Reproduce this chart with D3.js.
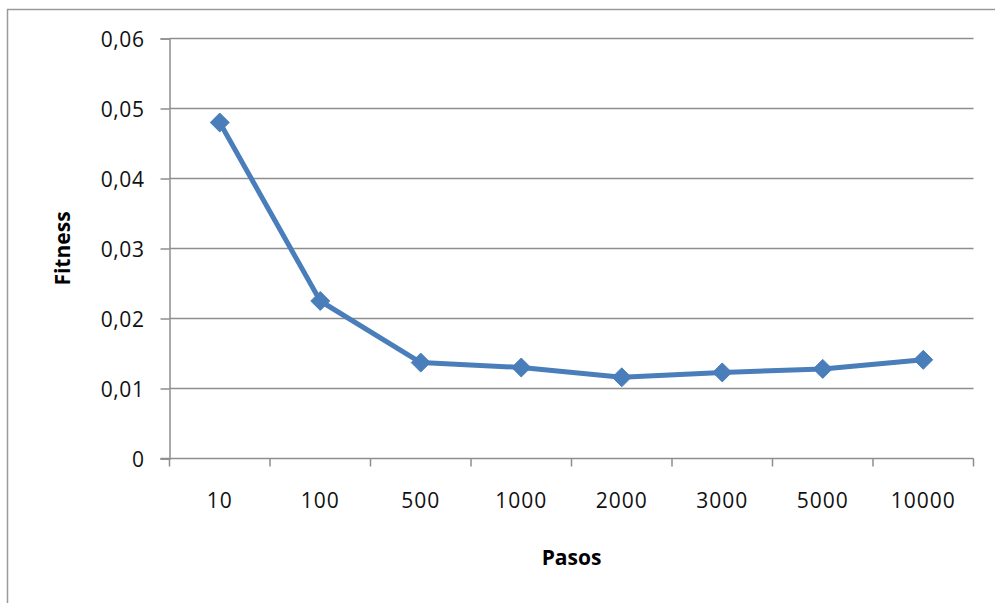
<!DOCTYPE html>
<html>
<head>
<meta charset="utf-8">
<script src="https://cdn.jsdelivr.net/npm/d3@7"></script>
<style>
  html, body { margin: 0; padding: 0; background: #fff; }
  svg { display: block; }
  text { font-family: "Open Sans", "DejaVu Sans", sans-serif; fill: #000; }
</style>
</head>
<body>
<svg id="chart" width="995" height="603"></svg>
<script>
// Fitness per number of steps
const pasos = ["10", "100", "500", "1000", "2000", "3000", "5000", "10000"];
const fitness = [0.0480, 0.0225, 0.0137, 0.0130, 0.0116, 0.0123, 0.0128, 0.0141];
const yTicks = [0, 0.01, 0.02, 0.03, 0.04, 0.05, 0.06];
const xTitle = "Pasos";
const yTitle = "Fitness";

const svg = d3.select("#chart");
const W = 995, H = 603;
const plot = { left: 169.5, right: 973.5, top: 38.5, bottom: 458.5 };
const gray = "#8e8e8e";
const blue = "#4a7ebb";

// outer chart frame
svg.append("rect")
  .attr("x", 7.5).attr("y", 9.5)
  .attr("width", W + 10).attr("height", H + 10)
  .attr("fill", "#fff").attr("stroke", "#9a9a9a").attr("stroke-width", 1.5);

const x = d3.scaleBand().domain(pasos).range([plot.left, plot.right]).padding(0);
const y = d3.scaleLinear().domain([0, 0.06]).range([plot.bottom, plot.top]);

const fmt = v => d3.format(".2f")(v).replace(".", ",");

// horizontal gridlines
svg.append("g").selectAll("line").data(yTicks.filter(d => d > 0)).join("line")
  .attr("x1", plot.left).attr("x2", plot.right)
  .attr("y1", d => y(d)).attr("y2", d => y(d))
  .attr("stroke", gray).attr("stroke-width", 1.5);

// y axis
const yAxis = svg.append("g").attr("transform", `translate(${plot.left},0)`)
  .call(d3.axisLeft(y).tickValues(yTicks).tickSize(9).tickPadding(16)
    .tickFormat(d => d === 0 ? "0" : fmt(d)));
yAxis.select(".domain").attr("stroke", gray).attr("stroke-width", 1.5);
yAxis.selectAll(".tick line").attr("stroke", gray).attr("stroke-width", 1.5);
yAxis.selectAll(".tick text")
  .style("font-size", "21px").style("letter-spacing", "0.6px")
  .style("fill", "#111")
  .attr("dy", "0.36em");

// x axis line and tick marks at category boundaries
svg.append("line")
  .attr("x1", plot.left - 9).attr("x2", plot.right)
  .attr("y1", plot.bottom).attr("y2", plot.bottom)
  .attr("stroke", gray).attr("stroke-width", 1.5);
const bounds = pasos.map(p => x(p)).concat([x(pasos[pasos.length - 1]) + x.bandwidth()]);
svg.append("g").selectAll("line").data(bounds).join("line")
  .attr("x1", d => d).attr("x2", d => d)
  .attr("y1", plot.bottom).attr("y2", plot.bottom + 8)
  .attr("stroke", gray).attr("stroke-width", 1.5);

// x tick labels
svg.append("g").selectAll("text").data(pasos).join("text")
  .attr("x", d => x(d) + x.bandwidth() / 2)
  .attr("y", 508)
  .attr("text-anchor", "middle")
  .style("font-size", "21px").style("letter-spacing", "1px")
  .style("fill", "#111")
  .text(d => d);

// axis titles
svg.append("text")
  .attr("x", (plot.left + plot.right) / 2).attr("y", 565)
  .attr("text-anchor", "middle")
  .style("font-size", "21px").style("font-weight", "bold")
  .text(xTitle);
svg.append("text")
  .attr("transform", `translate(70,${(plot.top + plot.bottom) / 2}) rotate(-90)`)
  .attr("text-anchor", "middle")
  .style("font-size", "21px").style("font-weight", "bold")
  .text(yTitle);

// series line
const cx = d => x(d) + x.bandwidth() / 2;
const data = pasos.map((p, i) => ({ p, v: fitness[i] }));
svg.append("path").datum(data)
  .attr("d", d3.line().x(d => cx(d.p)).y(d => y(d.v)))
  .attr("fill", "none").attr("stroke", blue)
  .attr("stroke-width", 5).attr("stroke-linejoin", "round");

// diamond markers
svg.append("g").selectAll("path").data(data).join("path")
  .attr("transform", d => `translate(${cx(d.p)},${y(d.v)})`)
  .attr("d", d3.symbol(d3.symbolDiamond2, 230))
  .attr("fill", blue).attr("stroke", blue).attr("stroke-width", 1);
</script>
</body>
</html>
